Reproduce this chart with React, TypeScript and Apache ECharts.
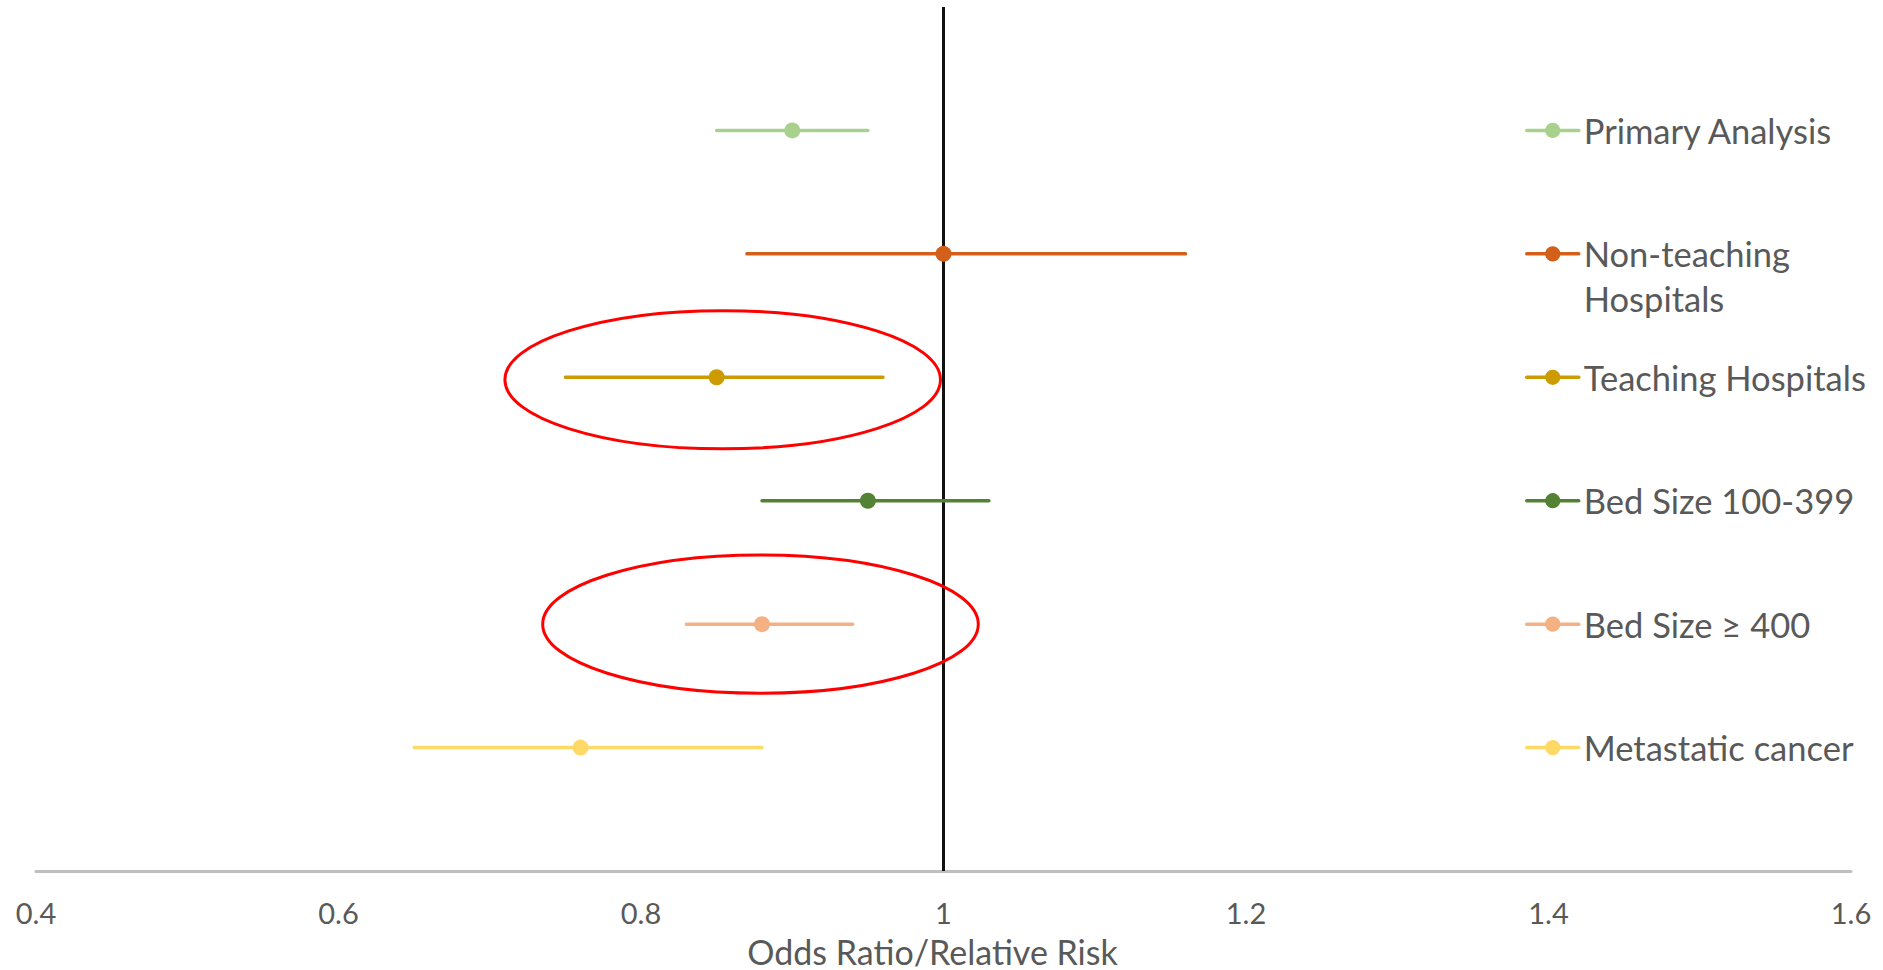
import React, { useEffect, useRef } from 'react';
import * as echarts from 'echarts';

// ---- data ----
const categories = [
  'Primary Analysis',
  'Non-teaching Hospitals',
  'Teaching Hospitals',
  'Bed Size 100-399',
  'Bed Size ≥ 400',
  'Metastatic cancer',
];
// legend wording as wrapped in the reference (leading blank line keeps the first line level with the icon)
const legendLabels = [
  'Primary Analysis',
  ' \nNon-teaching\nHospitals',
  'Teaching Hospitals',
  'Bed Size 100-399',
  'Bed Size ≥ 400',
  'Metastatic cancer',
];
const estimates = [0.9, 1.0, 0.85, 0.95, 0.88, 0.76];
const lowerCI = [0.85, 0.87, 0.75, 0.88, 0.83, 0.65];
const upperCI = [0.95, 1.16, 0.96, 1.03, 0.94, 0.88];
const rows = [6, 5, 4, 3, 2, 1];
const colors = ['#A9D18E', '#D3601A', '#CC9B00', '#548235', '#F4B183', '#FFD966'];

const referenceValue = 1;
const rowMin = 0;
const rowMax = 7;

const xMin = 0.4;
const xMax = 1.6;
const xInterval = 0.2;

// highlighted rows (ellipses): center x, center row, half-width (x units), half-height (row units)
const ellipseCenterX = [0.854, 0.879];
const ellipseCenterRow = [3.98, 2.0];
const ellipseHalfWidth = [0.144, 0.144];
const ellipseHalfHeight = [0.56, 0.56];

const W = 1883;
const H = 970;
const GRID = { left: 36, right: 32, top: 7, bottom: 99 };
const FONT = 'Lato, "Noto Sans", sans-serif';
const TEXT = '#595959';

export default function App() {
  const ref = useRef<HTMLDivElement>(null);

  useEffect(() => {
    const chart = echarts.init(ref.current as HTMLDivElement, null, { renderer: 'svg' });
    const gridH = H - GRID.top - GRID.bottom;
    const L = 45;

    const legends = categories.map((name, i) => {
      const cy = GRID.top + ((rowMax - rows[i]) / (rowMax - rowMin)) * gridH;
      const nLines = legendLabels[i].split('\n').length;
      return {
        show: true,
        data: [name],
        left: 1525,
        top: cy - (nLines * L) / 2,
        orient: 'vertical',
        padding: 0,
        itemWidth: 52,
        itemHeight: 19,
        itemGap: 0,
        selectedMode: false,
        formatter: (n: string) => legendLabels[categories.indexOf(n)],
        lineStyle: { width: 3.5 },
        textStyle: {
          fontFamily: FONT,
          fontSize: 34.5,
          color: TEXT,
          lineHeight: L,
        },
      };
    });

    const ciSeries = categories.map((name, i) => ({
      type: 'line',
      name,
      data: [
        { value: [lowerCI[i], rows[i]], symbol: 'none' },
        { value: [estimates[i], rows[i]] },
        { value: [upperCI[i], rows[i]], symbol: 'none' },
      ],
      symbol: 'circle',
      symbolSize: 16,
      showSymbol: true,
      lineStyle: { color: colors[i], width: 3.5, cap: 'round' },
      itemStyle: { color: colors[i] },
      z: 4,
      silent: true,
    }));

    const ellipseData = ellipseCenterX.map((x, i) => [
      x,
      ellipseCenterRow[i],
      ellipseHalfWidth[i],
      ellipseHalfHeight[i],
    ]);

    chart.setOption({
      animation: false,
      grid: { ...GRID, containLabel: false, outerBoundsMode: 'none' },
      legend: legends,
      xAxis: {
        type: 'value',
        min: xMin,
        max: xMax,
        interval: xInterval,
        axisLine: { show: true, onZero: false, lineStyle: { color: '#BFBFBF', width: 3 } },
        axisTick: { show: false },
        splitLine: { show: false },
        axisLabel: { fontFamily: FONT, fontSize: 29, color: TEXT, margin: 27 },
        name: 'Odds Ratio/Relative Risk',
        nameLocation: 'middle',
        nameGap: 63,
        nameTextStyle: { fontFamily: FONT, fontSize: 34, color: TEXT, padding: [0, 22, 0, 0] },
      },
      yAxis: { type: 'value', min: rowMin, max: rowMax, show: false },
      series: [
        {
          type: 'line',
          name: 'reference',
          data: [
            [referenceValue, rowMin],
            [referenceValue, rowMax],
          ],
          symbol: 'none',
          lineStyle: { color: '#111111', width: 3 },
          z: 2,
          silent: true,
        },
        ...ciSeries,
        {
          type: 'custom',
          name: 'highlight',
          data: ellipseData,
          silent: true,
          z: 10,
          renderItem: (_params: any, api: any) => {
            const c = api.coord([api.value(0), api.value(1)]);
            const s = api.size([api.value(2), api.value(3)]);
            return {
              type: 'ellipse',
              shape: { cx: c[0], cy: c[1], rx: s[0], ry: s[1] },
              style: { fill: 'none', stroke: '#FF0000', lineWidth: 3 },
            };
          },
        },
      ],
    });

    return () => chart.dispose();
  }, []);

  return (
    <div
      ref={ref}
      style={{ position: 'fixed', left: 0, top: 0, width: W, height: H, background: '#fff' }}
    />
  );
}
